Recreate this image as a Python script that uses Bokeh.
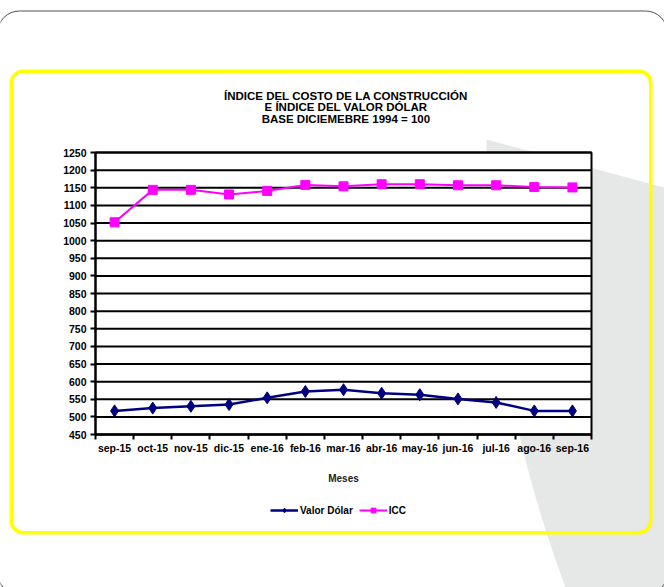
import math
from bokeh.plotting import figure
from bokeh.models import (Range1d, FixedTicker, Label, BoxAnnotation, PolyAnnotation,
                          Legend, LegendItem, ColumnDataSource)
from bokeh.embed import file_html
from bokeh.resources import INLINE

# ---- data ----
months = ["sep-15", "oct-15", "nov-15", "dic-15", "ene-16", "feb-16", "mar-16",
          "abr-16", "may-16", "jun-16", "jul-16", "ago-16", "sep-16"]
valor_dolar = [517, 525, 530, 535, 554, 572, 577, 567, 563, 551, 541, 517, 517]
icc = [1052, 1144, 1144, 1131, 1141, 1158, 1154, 1160, 1160, 1157, 1157, 1152, 1151]
y_ticks = [450, 500, 550, 600, 650, 700, 750, 800, 850, 900, 950, 1000, 1050,
           1100, 1150, 1200, 1250]
title_lines = ["ÍNDICE  DEL COSTO DE LA CONSTRUCCIÓN",
               "E ÍNDICE  DEL VALOR DÓLAR",
               "BASE DICIEMEBRE  1994 = 100"]
x_title = "Meses"
series_names = ["Valor Dólar", "ICC"]

FONT = "Liberation Sans"
W, H = 664, 587
# plot area in canvas pixels
PL, PR, PT, PB = 95, 591, 152, 434
n = len(months)
x_idx = list(range(n))
x_bounds = [i - 0.5 for i in range(n + 1)]
y_lo, y_hi = y_ticks[0], y_ticks[-1]

# ranges chosen so that the frame (whole canvas) maps the plot area onto PL..PR / PT..PB
xu = (PR - PL) / n
x_start = -0.5 - PL / xu
x_end = (n - 0.5) + (W - PR) / xu
yu = (y_hi - y_lo) / (PB - PT)
y_end = y_hi + PT * yu
y_start = y_lo - (H - PB) * yu

src = ColumnDataSource(dict(x=x_idx, dolar=valor_dolar, icc=icc))

p = figure(width=W, height=H, output_backend="svg", toolbar_location=None,
           x_range=Range1d(x_start, x_end), y_range=Range1d(y_start, y_end),
           min_border=0, min_border_left=0, min_border_right=0,
           min_border_top=0, min_border_bottom=0)
p.background_fill_color = "white"
p.border_fill_color = "white"
p.outline_line_color = None
p.xgrid.visible = False
p.ygrid.visible = False

# ---- decorations ----
cx, cy, R = 1734, 150, 1248
arc_y = [139 + k * 10 for k in range(0, 47)]
arc_x = [cx - math.sqrt(R * R - (yy - cy) ** 2) for yy in arc_y]
wedge_x = [486, 700, 700] + arc_x[::-1]
wedge_y = [139, 197, 620] + arc_y[::-1]
p.add_layout(PolyAnnotation(xs=wedge_x, ys=wedge_y, xs_units="canvas", ys_units="canvas",
                            fill_color="#E6E7E7", fill_alpha=1, line_alpha=0, level="image"))
# white plot area
p.add_layout(BoxAnnotation(left=-0.5, right=n - 0.5, bottom=y_lo, top=y_hi,
                           fill_color="white", fill_alpha=1, line_alpha=0, level="image"))
# outer gray rounded frame
p.add_layout(BoxAnnotation(left=-3, right=667, top=10.5, bottom=594,
                           left_units="canvas", right_units="canvas",
                           top_units="canvas", bottom_units="canvas",
                           fill_alpha=0, line_color="#505050", line_alpha=1, line_width=1,
                           border_radius=22, level="annotation"))
# yellow rounded frame
p.add_layout(BoxAnnotation(left=10.75, right=650.25, top=70.75, bottom=532.25,
                           left_units="canvas", right_units="canvas",
                           top_units="canvas", bottom_units="canvas",
                           fill_alpha=0, line_color="#FFFF00", line_alpha=1, line_width=3.5,
                           border_radius=12, level="annotation"))

# ---- title ----
for i, t in enumerate(title_lines):
    p.add_layout(Label(x=347, y=95.5 + i * 11.3, x_units="canvas", y_units="canvas",
                       text=t, text_align="center", text_baseline="middle",
                       text_font=FONT, text_font_style="bold", text_font_size="11.5px",
                       text_color="black"))

# ---- gridlines and plot outline ----
p.segment(x0=-0.5, x1=n - 0.5, y0=y_ticks, y1=y_ticks, line_color="black",
          line_width=2, level="underlay")
p.add_layout(BoxAnnotation(left=-0.5, right=n - 0.5, bottom=y_lo, top=y_hi,
                           fill_alpha=0, line_color="black", line_alpha=1, line_width=2,
                           level="underlay"))

# ---- axes (fixed at the plot area's edges) ----
xa = p.xaxis[0]
xa.fixed_location = y_lo
xa.bounds = (-0.5, n - 0.5)
xa.ticker = FixedTicker(ticks=x_idx, minor_ticks=x_bounds)
xa.major_label_overrides = {i: m for i, m in enumerate(months)}
xa.major_tick_out = 0
xa.major_tick_in = 0
xa.minor_tick_out = 5
xa.minor_tick_in = 0
xa.minor_tick_line_width = 2
xa.minor_tick_line_color = "black"
xa.major_label_standoff = 2
xa.axis_label = x_title
xa.axis_label_standoff = 16
xa.axis_label_text_font = FONT
xa.axis_label_text_font_style = "bold"
xa.axis_label_text_font_size = "10px"
xa.axis_label_text_color = "#222222"

ya = p.yaxis[0]
ya.fixed_location = -0.5
ya.bounds = (y_lo, y_hi)
ya.ticker = FixedTicker(ticks=y_ticks)
ya.major_tick_out = 5
ya.major_tick_in = 0
ya.major_tick_line_width = 2
ya.minor_tick_line_color = None
ya.major_label_standoff = 4

for ax in (xa, ya):
    ax.axis_line_width = 2
    ax.axis_line_color = "black"
    ax.major_tick_line_color = "black"
    ax.major_label_text_font = FONT
    ax.major_label_text_font_style = "bold"
    ax.major_label_text_font_size = "10.5px"
    ax.major_label_text_color = "black"

# ---- series ----
l1 = p.line("x", "dolar", source=src, line_color="#000080", line_width=2.5)
s1 = p.scatter("x", "dolar", source=src, marker="diamond", size=12,
               fill_color="#000080", line_color="#000080")
l2 = p.line("x", "icc", source=src, line_color="#FF00FF", line_width=2)
s2 = p.scatter("x", "icc", source=src, marker="square", size=9,
               fill_color="#FF00FF", line_color="#FF00FF")

legend = Legend(items=[LegendItem(label=series_names[0], renderers=[l1, s1]),
                       LegendItem(label=series_names[1], renderers=[l2, s2])],
                location=(270, H - 516), orientation="horizontal",
                border_line_alpha=0, background_fill_alpha=0,
                padding=0, margin=0, spacing=6, label_standoff=2,
                glyph_width=28, glyph_height=12, label_height=12,
                label_text_font=FONT, label_text_font_style="bold",
                label_text_font_size="10px", label_text_color="black")
p.add_layout(legend)

open("out.html", "w").write(file_html(p, INLINE))
